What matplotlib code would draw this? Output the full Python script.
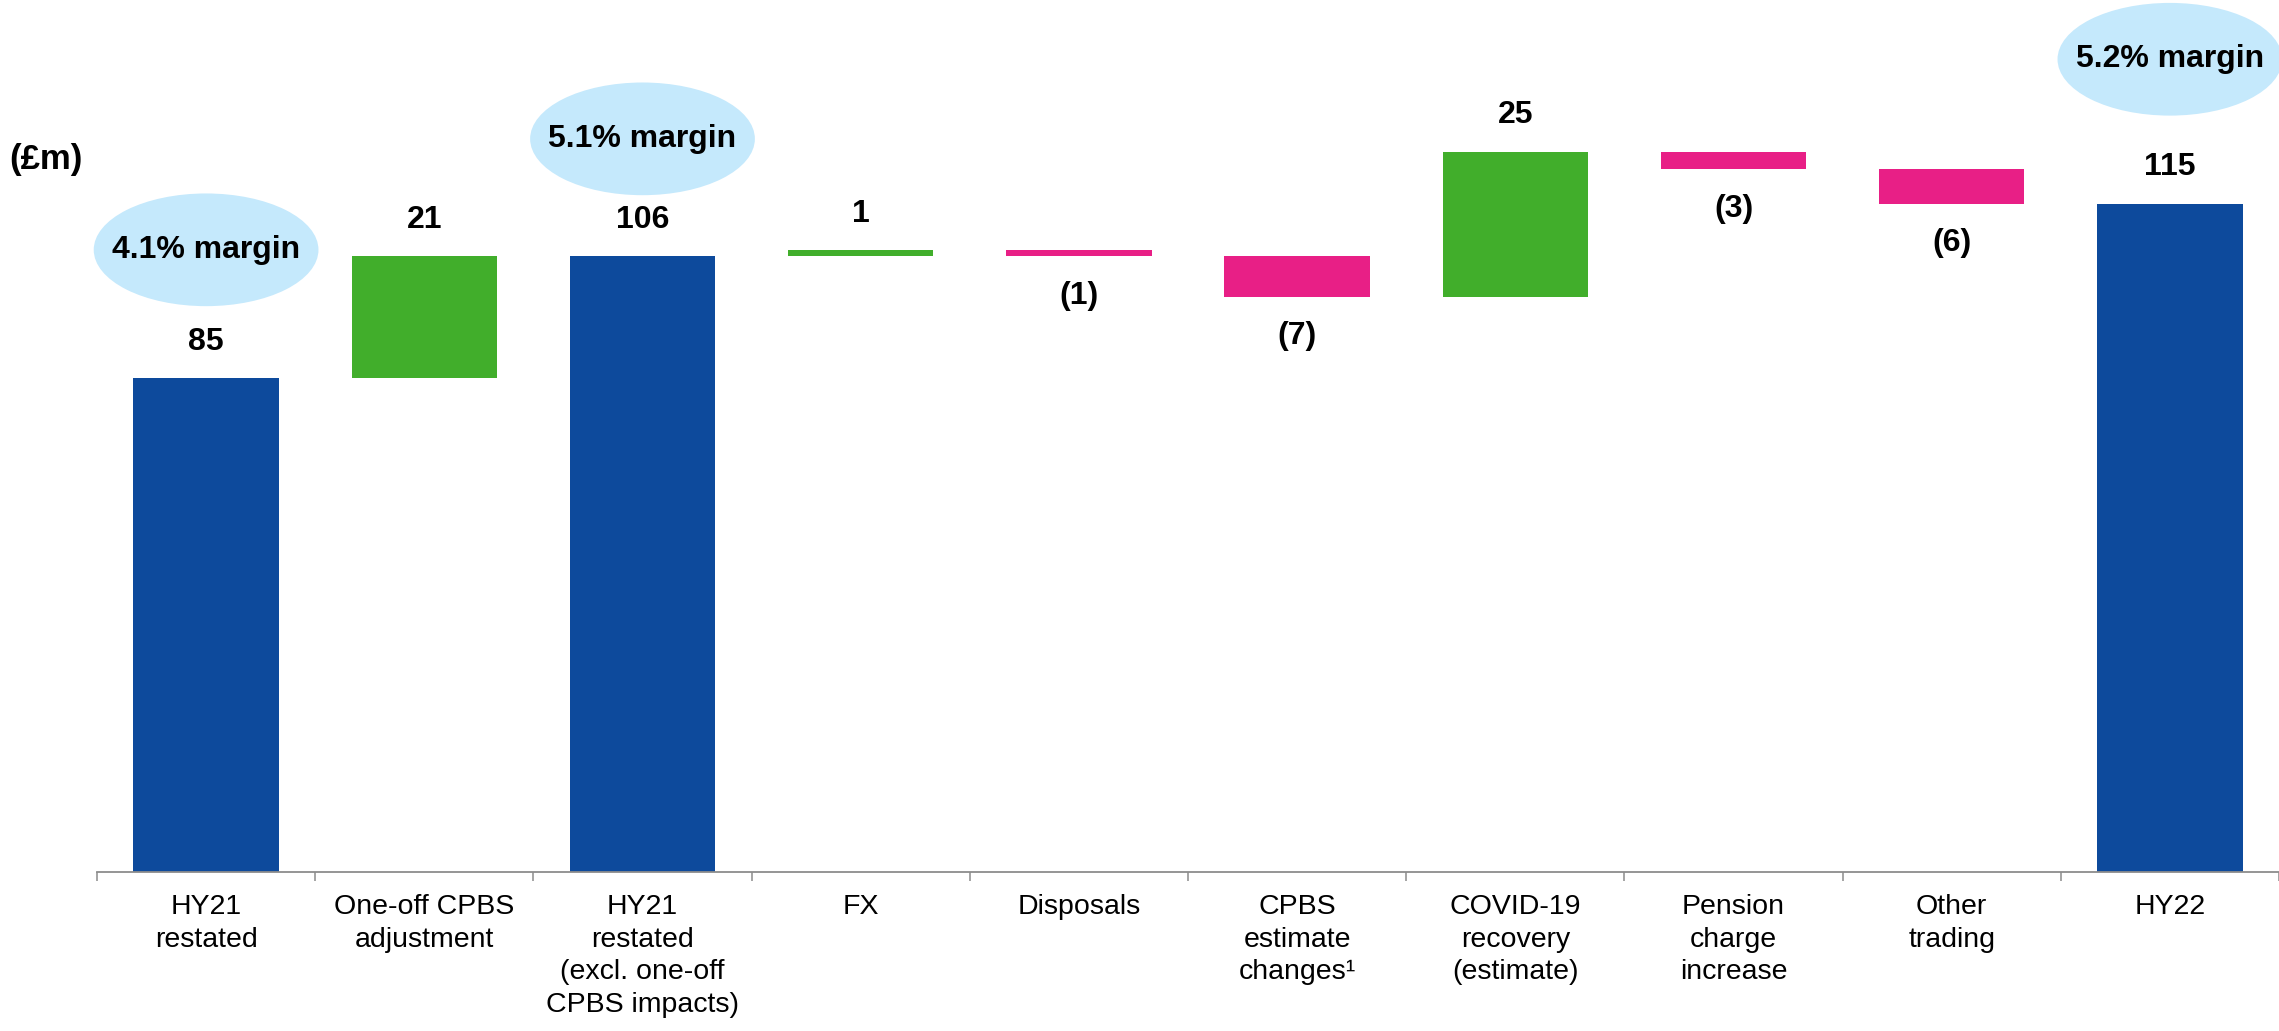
import matplotlib
matplotlib.use("Agg")
import matplotlib.pyplot as plt
from matplotlib.patches import Ellipse
import numpy as np

plt.rcParams['font.family'] = ['Liberation Sans', 'DejaVu Sans']

# ---- data ----
categories = ["HY21\nrestated", "One-off CPBS\nadjustment",
              "HY21\nrestated\n(excl. one-off\nCPBS impacts)", "FX", "Disposals",
              "CPBS\nestimate\nchanges\u00b9", "COVID-19\nrecovery\n(estimate)",
              "Pension\ncharge\nincrease", "Other\ntrading", "HY22"]
values = [85, 21, 106, 1, -1, -7, 25, -3, -6, 115]
is_total = [True, False, True, False, False, False, False, False, False, True]
value_labels = ["85", "21", "106", "1", "(1)", "(7)", "25", "(3)", "(6)", "115"]
margin_labels = ["4.1% margin", "5.1% margin", "5.2% margin"]
margin_bars = [0, 2, 9]

# ---- style ----
BLUE = "#0D4A9C"
GREEN = "#41AE2B"
PINK = "#E81F86"
BUBBLE = "#C5E9FC"
AXIS_GREY = "#8C8C8C"

fig = plt.figure(figsize=(22.79, 10.31), dpi=100)
ax = fig.add_axes([97 / 2279, 159 / 1031, 2182 / 2279, 872 / 1031])

x = np.arange(len(values))
bottoms, heights, colors = [], [], []
running = 0
for v, tot in zip(values, is_total):
    if tot:
        bottoms.append(0)
        heights.append(v)
        colors.append(BLUE)
        running = v
    else:
        if v >= 0:
            bottoms.append(running)
            heights.append(v)
            colors.append(GREEN)
        else:
            bottoms.append(running + v)
            heights.append(-v)
            colors.append(PINK)
        running += v

ax.bar(x, heights, bottom=bottoms, width=0.667, color=colors, zorder=2)

ax.set_xlim(-0.5, len(values) - 0.5)
ax.set_ylim(0, 150.1)

# value labels
for xi, v, b, h, lab, tot in zip(x, values, bottoms, heights, value_labels, is_total):
    if tot or v >= 0:
        y = b + h + 6.3
    else:
        y = b - 6.8
    ax.text(xi, y, lab, ha="center", va="center", fontsize=23,
            fontweight="bold", color="black")

# margin bubbles
bubble_offsets = [22.1, 20.2, 24.9]
for idx, lab, off in zip(margin_bars, margin_labels, bubble_offsets):
    top = bottoms[idx] + heights[idx]
    cy = top + off
    e = Ellipse((x[idx], cy), width=1.03, height=19.4, facecolor=BUBBLE,
                edgecolor="none", zorder=3, clip_on=False)
    ax.add_patch(e)
    ax.text(x[idx], cy, lab, ha="center", va="center", fontsize=23,
            fontweight="bold", color="black", zorder=4)

# axis styling
for s in ["left", "right", "top"]:
    ax.spines[s].set_visible(False)
ax.spines["bottom"].set_color(AXIS_GREY)
ax.spines["bottom"].set_linewidth(1.3)
ax.set_yticks([])
ax.set_xticks(x)
ax.set_xticklabels(categories, fontsize=20.5, linespacing=1.33)
ax.set_xticks(np.arange(-0.5, len(values), 1.0), minor=True)
ax.tick_params(axis="x", which="major", length=0, pad=16)
ax.tick_params(axis="x", which="minor", length=6.5, width=1.1, color=AXIS_GREY)

fig.text(9 / 2279, 1 - 160 / 1031, "(\u00a3m)", ha="left", va="center",
         fontsize=25, fontweight="bold")

fig.savefig("out.png", dpi=100)
